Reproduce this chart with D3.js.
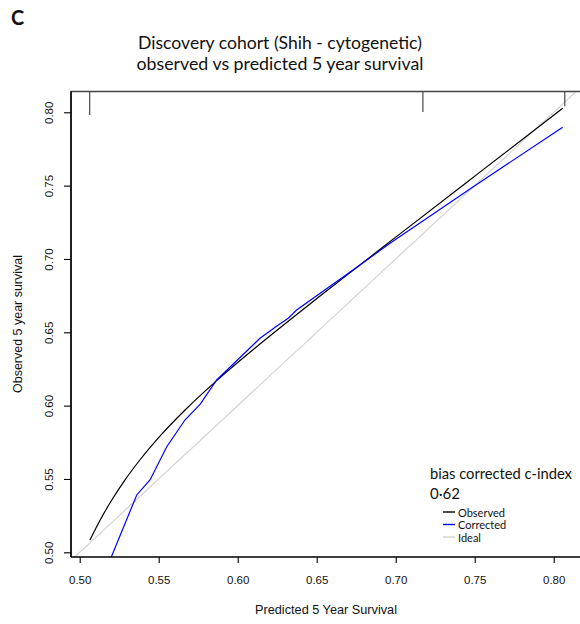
<!DOCTYPE html>
<html>
<head>
<meta charset="utf-8">
<script src="https://cdn.jsdelivr.net/npm/d3@7/dist/d3.min.js"></script>
<style>
  html, body { margin: 0; padding: 0; background: #fff; }
  svg { display: block; }
</style>
</head>
<body>
<svg id="chart" width="580" height="624"></svg>
<script>
// ---- data ----
const titleLines = ["Discovery cohort (Shih - cytogenetic)", "observed vs predicted 5 year survival"];
const panelLabel = "C";
const xLabel = "Predicted  5 Year Survival";
const yLabel = "Observed 5 year survival";
const xTicks = [0.50, 0.55, 0.60, 0.65, 0.70, 0.75, 0.80];
const yTicks = [0.50, 0.55, 0.60, 0.65, 0.70, 0.75, 0.80];

const observedX = [0.5065, 0.5128, 0.5204, 0.5287, 0.5382, 0.5508, 0.5667, 0.5856, 0.6141, 0.6521, 0.7027, 0.7533, 0.8057];
const observedY = [0.5084, 0.5217, 0.5358, 0.5494, 0.5631, 0.5792, 0.5970, 0.6160, 0.6420, 0.6747, 0.7171, 0.7592, 0.8027];

const correctedX = [0.5197, 0.5361, 0.5445, 0.5551, 0.5666, 0.5763, 0.5867, 0.6141, 0.6257, 0.6320, 0.6373, 0.6774, 0.6964, 0.7491, 0.8057];
const correctedY = [0.4960, 0.5391, 0.5493, 0.5720, 0.5902, 0.6010, 0.6175, 0.6459, 0.6550, 0.6596, 0.6652, 0.6959, 0.7107, 0.7493, 0.7898];

const idealX = [0.49, 0.83];
const idealY = [0.49, 0.83];

// distribution of predicted risk (spikes along the top)
const spikeX = [0.5063, 0.7172, 0.8070];
const spikeFreq = [1.0, 0.875, 0.625];

const legendTitle = "bias corrected c-index";
const cIndexText = "0·62";
const legendNames = ["Observed", "Corrected", "Ideal"];
const legendColors = ["#000000", "#0000ff", "#d3d3d3"];

// ---- layout ----
const svg = d3.select("#chart");
const W = 580;
const box = { left: 71, top: 91.5, bottom: 557, right: 590 };

const x = d3.scaleLinear().domain([0.50, 0.80]).range([79.7, 553.7]);
const y = d3.scaleLinear().domain([0.50, 0.80]).range([552.3, 112.3]);
const spikeLen = d3.scaleLinear().domain([0, 1]).range([0, 23.5]);

const sansR = "'Liberation Sans', Arial, sans-serif";
const sansT = "Lato, 'Open Sans', sans-serif";

function fitText(sel, width) {
  const node = sel.node();
  let fs = parseFloat(sel.attr("font-size"));
  const w = node.getComputedTextLength();
  if (w > 0) sel.attr("font-size", (fs * width / w).toFixed(2));
  return sel;
}

// clip
svg.append("defs").append("clipPath").attr("id", "plotclip")
  .append("rect").attr("x", box.left).attr("y", box.top)
  .attr("width", box.right - box.left).attr("height", box.bottom - box.top);

// panel label
svg.append("text").attr("x", 11).attr("y", 25)
  .attr("font-family", sansT).attr("font-weight", "bold").attr("font-size", 20)
  .attr("fill", "#111").text(panelLabel);

// title
const titleCx = 280;
titleLines.forEach((t, i) => {
  const tt = svg.append("text").attr("x", titleCx).attr("y", 49 + i * 21)
    .attr("text-anchor", "middle").attr("font-family", sansT)
    .attr("font-size", 18).attr("fill", "#111").text(t);
  fitText(tt, i === 0 ? 284 : 287);
});

// ideal line
const line = d3.line().x(d => x(d[0])).y(d => y(d[1]));
const g = svg.append("g").attr("clip-path", "url(#plotclip)");
g.append("path").datum(idealX.map((v, i) => [v, idealY[i]]))
  .attr("d", line).attr("fill", "none").attr("stroke", legendColors[2]).attr("stroke-width", 1.2);

// observed
g.append("path").datum(observedX.map((v, i) => [v, observedY[i]]))
  .attr("d", d3.line().x(d => x(d[0])).y(d => y(d[1])).curve(d3.curveMonotoneX))
  .attr("fill", "none").attr("stroke", legendColors[0]).attr("stroke-width", 1.2);

// corrected
g.append("path").datum(correctedX.map((v, i) => [v, correctedY[i]]))
  .attr("d", line).attr("fill", "none").attr("stroke", legendColors[1]).attr("stroke-width", 1.2);

// spikes at top
svg.append("g").selectAll("line").data(spikeX.map((v, i) => [v, spikeFreq[i]])).join("line")
  .attr("x1", d => x(d[0])).attr("x2", d => x(d[0]))
  .attr("y1", box.top).attr("y2", d => box.top + spikeLen(d[1]))
  .attr("stroke", "#555").attr("stroke-width", 1.3);

// box (top and left)
svg.append("path")
  .attr("d", `M${box.left},${box.bottom}V${box.top}H${W}`)
  .attr("fill", "none").attr("stroke", "#444").attr("stroke-width", 1.3);

// x axis
const xAxis = svg.append("g").attr("transform", `translate(0,${box.bottom})`)
  .call(d3.axisBottom(x).tickValues(xTicks).tickFormat(d3.format(".2f")).tickSize(6).tickPadding(13));
xAxis.select(".domain").attr("d", `M${box.left},0H${W}`).attr("stroke", "#000").attr("stroke-width", 1.5);
xAxis.selectAll(".tick line").attr("stroke", "#000").attr("stroke-width", 1.1);
xAxis.selectAll("text").attr("font-family", sansR).attr("font-size", 11.5).attr("fill", "#111");

// y axis
const yAxis = svg.append("g").attr("transform", `translate(${box.left},0)`)
  .call(d3.axisLeft(y).tickValues(yTicks).tickFormat(d3.format(".2f")).tickSize(7));
yAxis.select(".domain").attr("d", `M0,${box.top}V${box.bottom}`).attr("stroke", "#000").attr("stroke-width", 1.5);
yAxis.selectAll(".tick line").attr("stroke", "#000").attr("stroke-width", 1.1);
yAxis.selectAll("text")
  .attr("font-family", sansR).attr("font-size", 11.5).attr("fill", "#111")
  .attr("text-anchor", "middle").attr("dy", null).attr("x", null)
  .attr("transform", "translate(-22,0) rotate(-90)")
  .attr("dominant-baseline", "central");

// axis titles
const xt = svg.append("text").attr("x", 326).attr("y", 614).attr("text-anchor", "middle")
  .attr("font-family", sansR).attr("font-size", 11).attr("fill", "#111").text(xLabel);
fitText(xt, 142);
const yt = svg.append("text").attr("transform", "translate(22,324) rotate(-90)")
  .attr("text-anchor", "middle").attr("font-family", sansR).attr("font-size", 11)
  .attr("fill", "#111").text(yLabel);
fitText(yt, 138);

// legend
const lt = svg.append("text").attr("x", 430).attr("y", 479).attr("font-family", sansT)
  .attr("font-size", 15).attr("fill", "#111").text(legendTitle);
fitText(lt, 142);
svg.append("text").attr("x", 430).attr("y", 499).attr("font-family", sansT)
  .attr("font-size", 15).attr("fill", "#111").text(cIndexText);

const leg = svg.append("g").selectAll("g").data(legendNames).join("g")
  .attr("transform", (d, i) => `translate(443,${512 + i * 12.5})`);
leg.append("line").attr("x1", 0).attr("x2", 12).attr("y1", 0).attr("y2", 0)
  .attr("stroke", (d, i) => legendColors[i]).attr("stroke-width", 1.4);
leg.append("text").attr("x", 15).attr("y", 0).attr("dominant-baseline", "central")
  .attr("font-family", sansT).attr("font-size", 11).attr("fill", "#111").text(d => d);
</script>
</body>
</html>
